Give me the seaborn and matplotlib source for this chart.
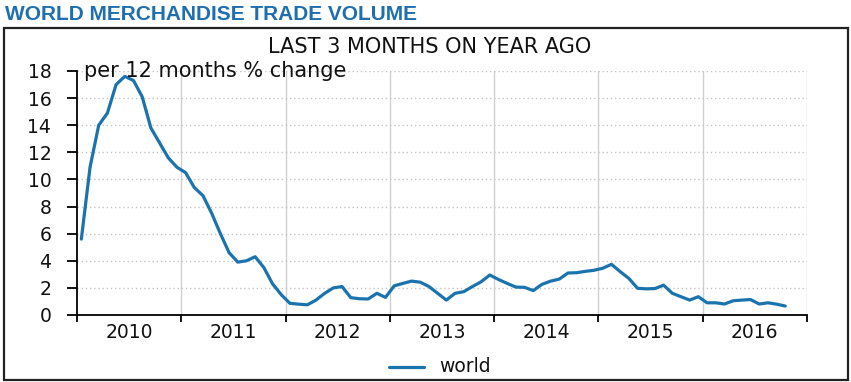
import numpy as np
import pandas as pd
import seaborn as sns
import matplotlib.pyplot as plt
from matplotlib.patches import Rectangle
from matplotlib.ticker import FixedLocator, NullFormatter

# monthly values, per 12 months % change (last 3 months on year ago)
y2010 = [5.6, 10.9, 14.0, 14.9, 17.0, 17.6, 17.3, 16.1, 13.8, 12.7, 11.6, 10.9]
y2011 = [10.5, 9.4, 8.8, 7.5, 6.0, 4.6, 3.9, 4.0, 4.3, 3.5, 2.3, 1.5]
y2012 = [0.86, 0.8, 0.75, 1.1, 1.6, 2.0, 2.1, 1.28, 1.2, 1.18, 1.6, 1.3]
y2013 = [2.15, 2.33, 2.5, 2.42, 2.1, 1.6, 1.1, 1.6, 1.72, 2.1, 2.45, 2.95]
y2014 = [2.62, 2.33, 2.06, 2.04, 1.8, 2.26, 2.5, 2.65, 3.1, 3.12, 3.22, 3.3]
y2015 = [3.45, 3.74, 3.2, 2.7, 1.97, 1.93, 1.95, 2.2, 1.6, 1.35, 1.1, 1.35]
y2016 = [0.9, 0.9, 0.81, 1.05, 1.1, 1.14, 0.81, 0.9, 0.8, 0.66]

years = [2010, 2011, 2012, 2013, 2014, 2015, 2016]
yticks = [0, 2, 4, 6, 8, 10, 12, 14, 16, 18]

values = y2010 + y2011 + y2012 + y2013 + y2014 + y2015 + y2016
df = pd.DataFrame({
    "date": 2010 + (np.arange(len(values)) + 0.5) / 12,
    "value": values,
    "series": "world",
})

sns.set_theme(style="white")
# wide sans for the chart text, Arial-like bold for the heading
plt.rcParams['font.family'] = ['DejaVu Sans']
FS = 13.5

W, H = 851, 382
fig = plt.figure(figsize=(W / 100, H / 100), dpi=100)
ax = fig.add_axes([77 / W, 1 - 315 / H, (807 - 77) / W, (315 - 71) / H])

line_color = "#1b73ae"
sns.lineplot(data=df, x="date", y="value", hue="series", palette=[line_color],
             linewidth=2.3, ax=ax, legend=False)

ax.set_xlim(2010, 2017)
ax.set_ylim(0, 18)
ax.set_xlabel("")
ax.set_ylabel("")

# year boundaries as major ticks, labels centred between them
ax.xaxis.set_major_locator(FixedLocator(years + [2017]))
ax.xaxis.set_major_formatter(NullFormatter())
ax.xaxis.set_minor_locator(FixedLocator([y + 0.5 for y in years]))
ax.set_xticklabels([str(y) for y in years], minor=True)
ax.tick_params(axis="x", which="major", direction="out", length=5, width=1.3,
               color="black", bottom=True)
ax.tick_params(axis="x", which="minor", length=0, labelsize=FS, pad=6,
               labelcolor="#111111")
ax.set_yticks(yticks)
ax.set_yticklabels([str(t) for t in yticks])
ax.tick_params(axis="y", direction="out", length=7.5, width=1.3, color="black",
               left=True, labelsize=FS, pad=11, labelcolor="#111111")

for yr in years[1:] + [2017]:
    ax.axvline(yr, color="#d0d0d0", linewidth=1.0, zorder=0)
for t in yticks[1:]:
    ax.axhline(t, color="#c4c4c4", linewidth=1.0, linestyle=(0, (1, 2)), zorder=0)

for side in ["top", "right"]:
    ax.spines[side].set_visible(False)
for side in ["left", "bottom"]:
    ax.spines[side].set_color("black")
    ax.spines[side].set_linewidth(1.3)

ax.text(7 / 730, 1.0, "per 12 months % change", transform=ax.transAxes,
        fontsize=15, ha="left", va="center", color="#111111")

fig.text(430 / W, 1 - 47 / H, "LAST 3 MONTHS ON YEAR AGO", fontsize=15,
         ha="center", va="center", color="#111111")
fig.text(5 / W, 1 - 14 / H, "WORLD MERCHANDISE TRADE VOLUME", fontsize=15,
         fontweight="bold", ha="left", va="center", color="#1f6fb0",
         family=["Liberation Sans", "DejaVu Sans"])

# legend at the bottom
fig.lines.append(plt.Line2D([389 / W, 424 / W], [1 - 367 / H, 1 - 367 / H],
                            transform=fig.transFigure, color=line_color, linewidth=2.3))
fig.text(439 / W, 1 - 367 / H, "world", fontsize=FS, ha="left", va="center",
         color="#111111")

# outer frame
fig.patches.append(Rectangle((4 / W, 2 / H), 844 / W, 352 / H, transform=fig.transFigure,
                             fill=False, edgecolor="#222222", linewidth=1.6))

fig.savefig("out.png", dpi=100)
